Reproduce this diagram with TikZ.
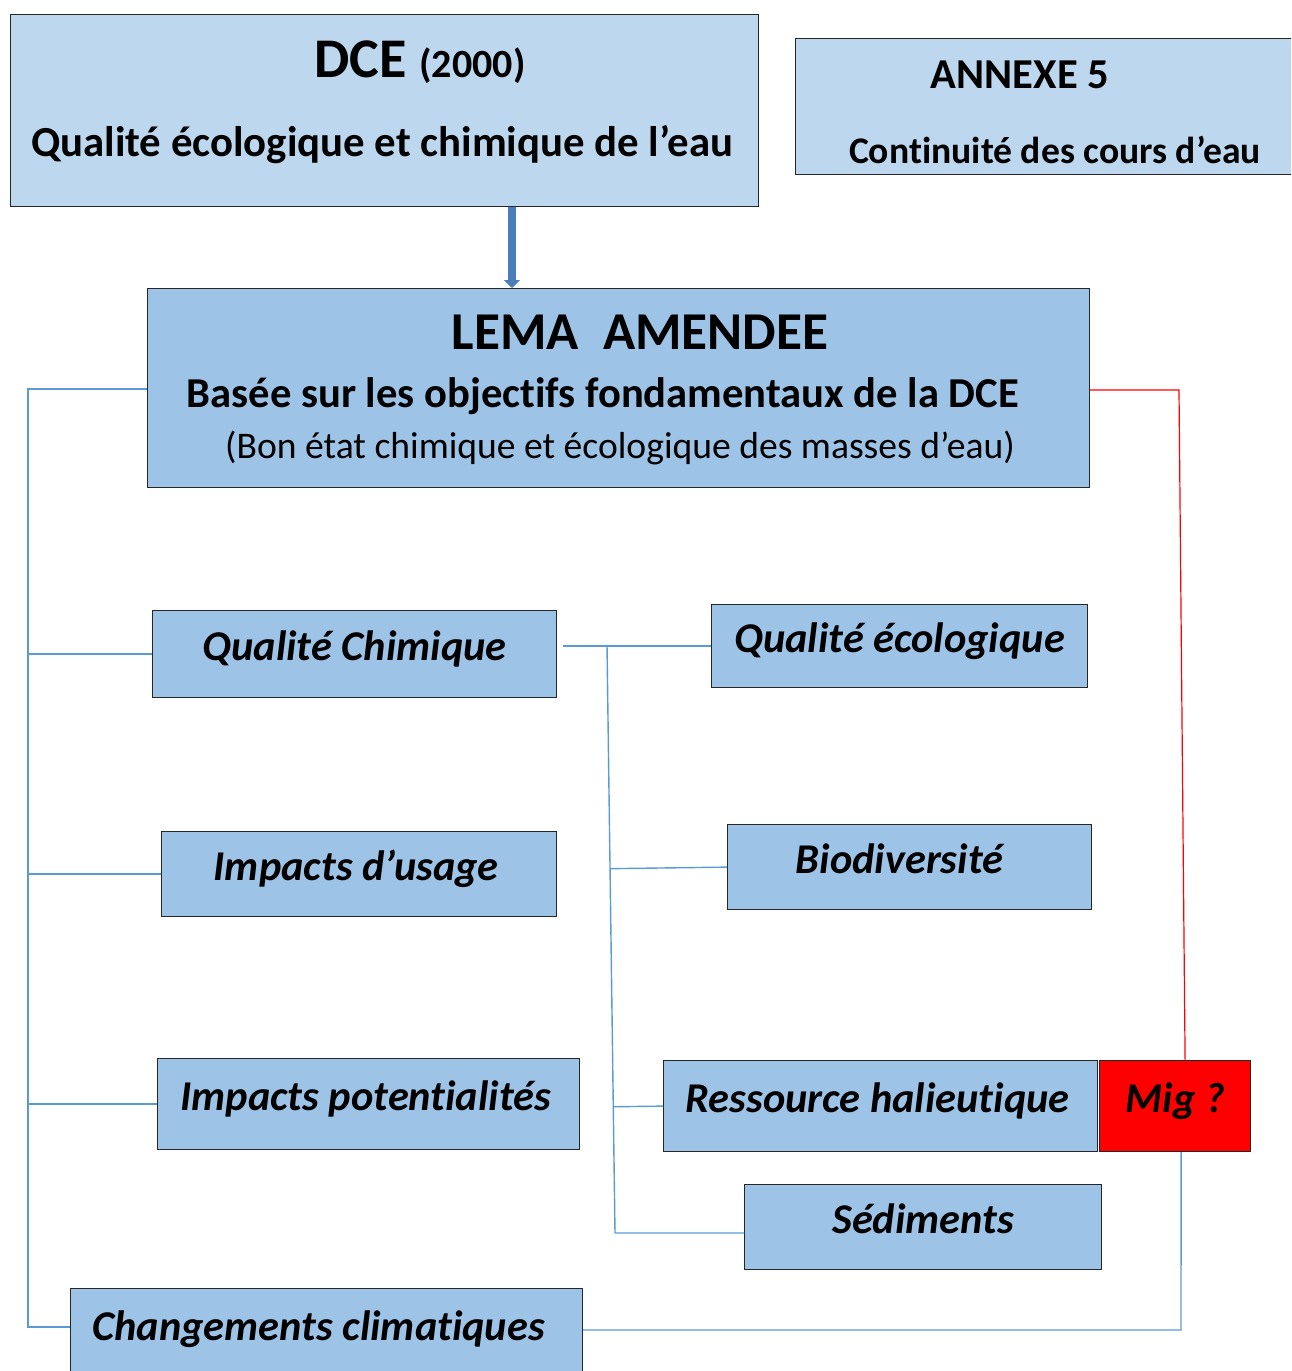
\documentclass[tikz,border=0pt]{standalone}
\usepackage{fontspec}
\setmainfont{Carlito}[Ligatures=NoCommon]
\usetikzlibrary{positioning,calc,arrows.meta}
\definecolor{paleblue}{HTML}{BDD7EE}
\definecolor{boxblue}{HTML}{9DC3E6}
\definecolor{linkblue}{HTML}{5B9BD5}
\definecolor{arrowblue}{HTML}{4A7EBB}

\begin{document}
\begin{tikzpicture}[x=0.5pt,y=-0.5pt,
  box/.style={draw=black!85,line width=0.6pt,fill=boxblue,anchor=north west,inner sep=0pt},
  topbox/.style={box,fill=paleblue},
  item/.style={font=\fontsize{21.2}{24}\selectfont\bfseries\itshape,text height=0.86em,text depth=0.2em},
  link/.style={draw=linkblue,line width=0.7pt},
  redlink/.style={draw=red,line width=0.6pt}]
\clip (0,0) rectangle (1291,1371);

% top boxes
\node[topbox,minimum width=374pt,minimum height=96pt] (dce) at (10,14) {};
\node[font=\fontsize{28}{32}\selectfont\bfseries] (dcetitle) at (420,62) {DCE {\fontsize{20}{24}\selectfont(2000)}};
\node[font=\fontsize{21.4}{24}\selectfont\bfseries] (dcetext) at (382,145) {Qualité écologique et chimique de l’eau};
\node[topbox,minimum width=252.5pt,minimum height=68pt] (annexe) at (795,38) {};
\node[font=\fontsize{21.3}{24}\selectfont\bfseries] (annexetitle) at (1020,75) {ANNEXE 5};
\node[font=\fontsize{18.8}{22}\selectfont\bfseries] (annexetext) at (1055,150) {Continuité des cours d’eau};

% LEMA
\node[box,minimum width=471pt,minimum height=99.5pt] (lema) at (147,288) {};
\node[font=\fontsize{26.6}{30}\selectfont\bfseries] (lematitle) at (640,332) {LEMA\ \ AMENDEE};
\node[font=\fontsize{21.3}{24}\selectfont\bfseries] (lematext) at (603,396) {Basée sur les objectifs fondamentaux de la DCE};
\node[font=\fontsize{18.8}{22}\selectfont] (lemanote) at (620,448) {(Bon état chimique et écologique des masses d’eau)};

% items
\node[box,minimum width=202pt,minimum height=43.5pt,item] (qchim) at (152,610) {Qualité Chimique};
\node[box,minimum width=188pt,minimum height=41.5pt,item] (qeco) at (711,604) {Qualité écologique};
\node[box,minimum width=197.5pt,minimum height=42.5pt,item] (usage) at (161,831) {Impacts d’usage\kern3pt};
\node[box,minimum width=182pt,minimum height=42.5pt,item] (biodiv) at (727,824) {Biodiversité\kern10pt};
\node[box,minimum width=211pt,minimum height=45.5pt,item] (poten) at (157,1058) {Impacts potentialités\kern3pt};
\node[box,minimum width=217pt,minimum height=45.5pt,item] (ress) at (663,1060) {Ressource halieutique\kern3pt};
\node[box,minimum width=75.5pt,minimum height=45.5pt,item,fill=red] (mig) at (1099,1060) {Mig ?};
\node[box,minimum width=178.5pt,minimum height=42.5pt,item] (sed) at (744,1184) {Sédiments};
\node[box,minimum width=256pt,minimum height=45pt,item] (clim) at (70,1288) {Changements climatiques\kern8pt};

% arrow DCE -> LEMA
\coordinate (arr) at (512,0);
\draw[arrowblue,line width=4pt,-{Triangle[width=8pt,length=4pt]}] (dce.south -| arr) -- (lema.north -| arr);

% left bus
\coordinate (ltop) at (28,389);
\coordinate (lbot) at (28,1327);
\draw[link] (lema.west |- ltop) -- (ltop) -- (lbot) -- (clim.west |- lbot);
\draw[link] (qchim.west) -- (qchim.west -| ltop);
\draw[link] (usage.west) -- (usage.west -| ltop);
\draw[link] (poten.west) -- (poten.west -| ltop);

% middle bus
\coordinate (mtop) at (607,645);
\coordinate (mbot) at (615,1233);
\draw[link] ([xshift=3pt]qchim.east |- qeco.west) -- (qeco.west);
\draw[link] (mtop) -- (mbot) -- (sed.west |- mbot);
\draw[link] ($(mtop)!(biodiv.west)!(mbot)$) -- (biodiv.west);
\draw[link] ($(mtop)!(ress.west)!(mbot)$) -- (ress.west);

% right side
\coordinate (rtop) at (1179,390);
\draw[redlink] (lema.east |- rtop) -- (rtop) -- ([xshift=5pt]mig.north);
\coordinate (rbot) at (1181,1330);
\draw[link] ([xshift=3pt]mig.south) -- (rbot) -- (clim.east |- rbot);
\end{tikzpicture}
\end{document}
